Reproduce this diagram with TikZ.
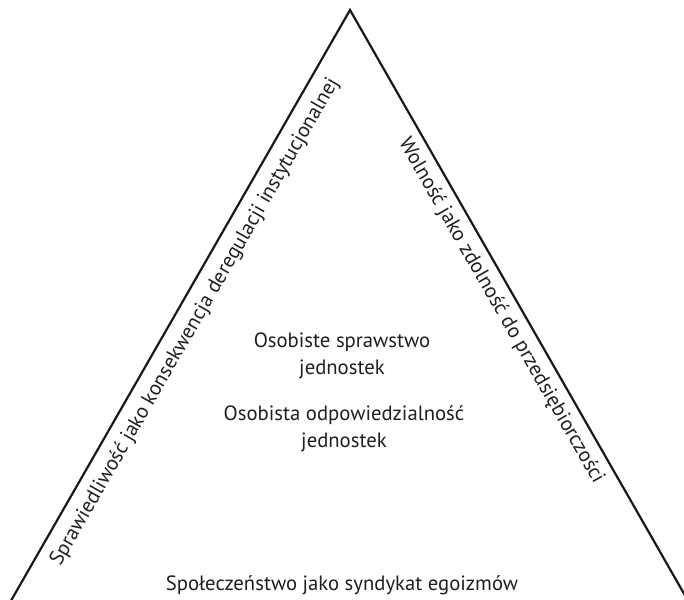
\documentclass[tikz,border=0pt]{standalone}
\usepackage{fontspec}
\setmainfont{PT Sans}
\begin{document}
\begin{tikzpicture}[x=1pt,y=-1pt,
  edge/.style={line width=2.2pt, draw=black!90},
  label/.style={font=\fontsize{20.7}{26.5}\selectfont, inner sep=0pt, align=center, text=black!88}]
\useasboundingbox (0,0) rectangle (684,599);
\clip (0,0) rectangle (684,599);
% apex and the two far ends of the sides (beyond the frame)
\coordinate (apex) at (350,10);
\coordinate (bl) at (350-0.5739*600,610);
\coordinate (br) at (350+0.5722*600,610);
\draw[edge] (bl) -- (apex) -- (br);
% side labels, parallel to the sides
\node[label, rotate=60.1] (left) at (195,322) {Sprawiedliwość jako konsekwencja deregulacji instytucjonalnej};
\node[label, rotate=-60.2] (right) at (501,311) {Wolność jako zdolność do przedsiębiorczości};
% inner labels (base anchor sits on the last line)
\node[label, anchor=base] (agency) at (342,374) {Osobiste sprawstwo\\jednostek};
\node[label, anchor=base] (resp) at (344,447) {Osobista odpowiedzialność\\jednostek};
% base label
\node[label, anchor=base] (base) at (342,590) {Społeczeństwo jako syndykat egoizmów};
\end{tikzpicture}
\end{document}
